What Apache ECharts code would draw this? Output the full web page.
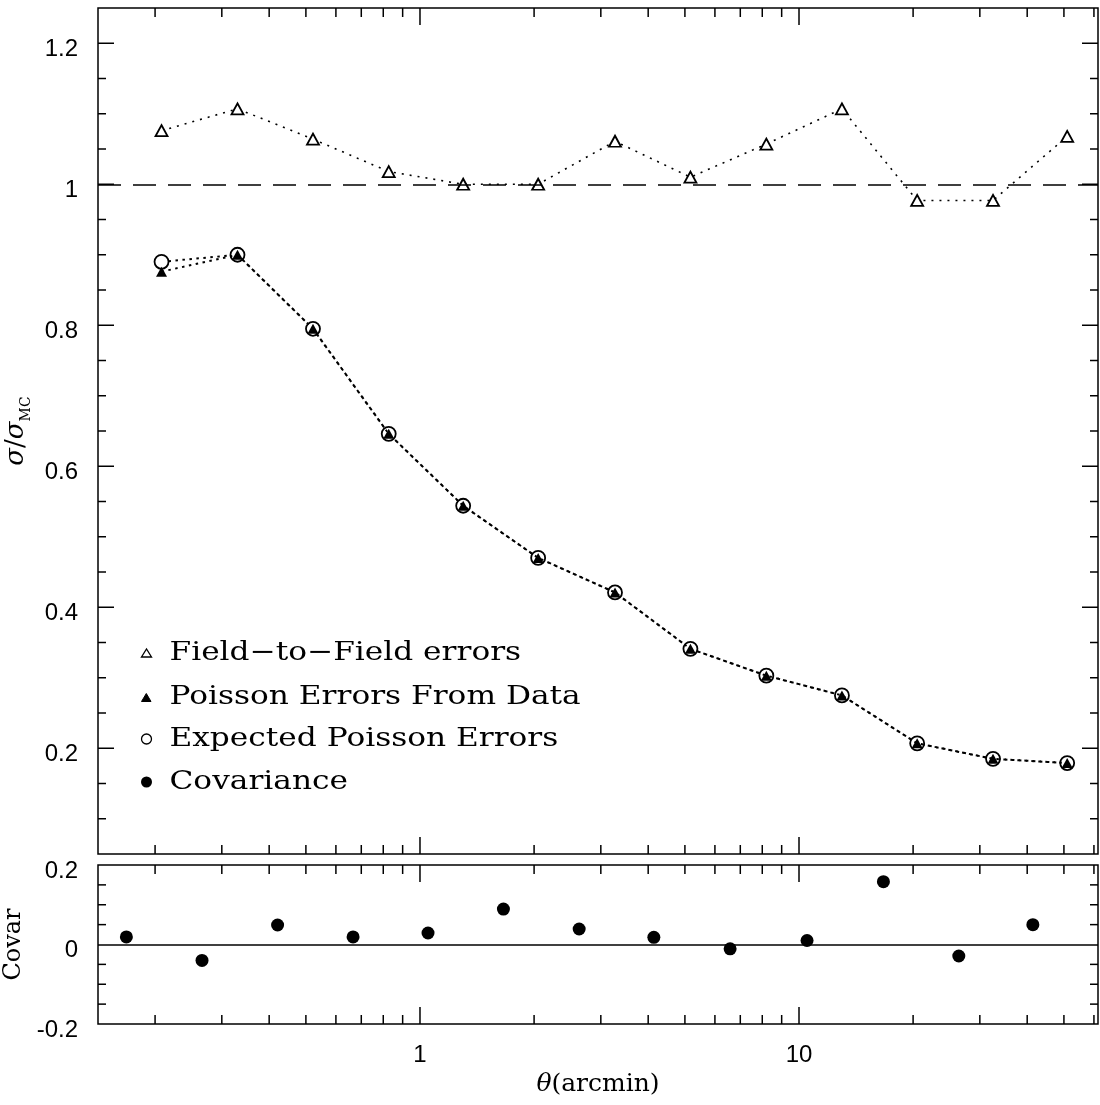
<!DOCTYPE html>
<html>
<head>
<meta charset="utf-8">
<script src="https://cdn.jsdelivr.net/npm/echarts@6/dist/echarts.min.js"></script>
<style>
  html, body { margin: 0; padding: 0; background: #fff; }
  #chart { width: 1100px; height: 1105px; }
</style>
</head>
<body>
<div id="chart"></div>
<script>
// Angular bins (arcmin) of the error-ratio measurements
const theta = [0.208, 0.330, 0.522, 0.827, 1.30, 2.05, 3.27, 5.17, 8.2, 12.98, 20.5, 32.5, 51.0];
// Bins of the neighbouring-bin covariance terms
const thetaCov = [0.168, 0.266, 0.421, 0.666, 1.05, 1.66, 2.63, 4.14, 6.58, 10.5, 16.7, 26.4, 41.4];

// sigma / sigma_MC for each error estimate
const fieldToField    = [1.076, 1.107, 1.064, 1.018, 1.000, 1.000, 1.061, 1.010, 1.057, 1.107, 0.977, 0.977, 1.068];
const poissonData     = [0.876, 0.900, 0.795, 0.646, 0.544, 0.470, 0.421, 0.341, 0.303, 0.275, 0.207, 0.185, 0.179];
const poissonExpected = [0.890, 0.900, 0.795, 0.646, 0.544, 0.470, 0.421, 0.341, 0.303, 0.275, 0.207, 0.185, 0.179];
// normalised covariance between adjacent bins
const covariance      = [0.019, -0.040, 0.049, 0.019, 0.029, 0.089, 0.039, 0.018, -0.011, 0.010, 0.158, -0.029, 0.050];

// Tick positions
const xMajorTicks = [1, 10];
const xMinorTicks = [0.2, 0.3, 0.4, 0.5, 0.6, 0.7, 0.8, 0.9, 2, 3, 4, 5, 6, 7, 8, 9, 20, 30, 40, 50, 60];
const sigmaMajorTicks = [0.2, 0.4, 0.6, 0.8, 1.0, 1.2];
const sigmaMinorTicks = [0.1, 0.15, 0.25, 0.3, 0.35, 0.45, 0.5, 0.55, 0.65, 0.7, 0.75, 0.85, 0.9, 0.95, 1.05, 1.1, 1.15];
const covarMinorTicks = [-0.15, -0.1, -0.05, 0.05, 0.1, 0.15];

// Axis ranges
const X_MIN = 0.1414, X_MAX = 61.5;
const SIG_MIN = 0.05, SIG_MAX = 1.25;
const COV_MIN = -0.2, COV_MAX = 0.2;

const SERIF = '"DejaVu Serif", "Liberation Serif", serif';
const SANS = '"Liberation Sans", Arial, sans-serif';

function pairs(xs, ys) { return xs.map((x, i) => [x, ys[i]]); }

// Inward tick marks on all four sides of a panel
function tickSeries(idx, yMin, yMax, yMajor, yMinor) {
  const items = [];
  xMajorTicks.forEach(v => items.push([v, yMin, 17, 0]));
  xMinorTicks.forEach(v => items.push([v, yMin, 9, 0]));
  yMajor.forEach(v => items.push([X_MIN, v, 16, 1]));
  yMinor.forEach(v => items.push([X_MIN, v, 8, 1]));
  return {
    type: 'custom',
    xAxisIndex: idx, yAxisIndex: idx,
    silent: true, z: 6,
    encode: { x: 0, y: 1 },
    data: items,
    renderItem(params, api) {
      const v = api.value(0), w = api.value(1), len = api.value(2), kind = api.value(3);
      const style = { stroke: '#000', lineWidth: 1.5 };
      if (kind === 0) {
        const b = api.coord([v, yMin]), t = api.coord([v, yMax]);
        return { type: 'group', children: [
          { type: 'line', shape: { x1: b[0], y1: b[1], x2: b[0], y2: b[1] - len }, style },
          { type: 'line', shape: { x1: t[0], y1: t[1], x2: t[0], y2: t[1] + len }, style }
        ]};
      }
      const l = api.coord([X_MIN, w]), r = api.coord([X_MAX, w]);
      return { type: 'group', children: [
        { type: 'line', shape: { x1: l[0], y1: l[1], x2: l[0] + len, y2: l[1] }, style },
        { type: 'line', shape: { x1: r[0], y1: r[1], x2: r[0] - len, y2: r[1] }, style }
      ]};
    }
  };
}

// y tick labels sit slightly below their tick
const axisLabelY = { fontFamily: SANS, fontSize: 24, color: '#000', margin: 20, verticalAlign: 'top', lineHeight: 12 };

const chart = echarts.init(document.getElementById('chart'), null, { renderer: 'canvas' });

chart.setOption({
  animation: false,
  backgroundColor: '#fff',
  grid: [
    { left: 98, top: 8, width: 1000, height: 846, show: true, borderColor: '#000', borderWidth: 1.5, backgroundColor: 'transparent', containLabel: false, outerBoundsMode: 'none' },
    { left: 98, top: 865, width: 1000, height: 159, show: true, borderColor: '#000', borderWidth: 1.5, backgroundColor: 'transparent', containLabel: false, outerBoundsMode: 'none' }
  ],
  xAxis: [
    { type: 'log', gridIndex: 0, min: X_MIN, max: X_MAX, logBase: 10,
      axisLine: { show: false }, axisTick: { show: false }, splitLine: { show: false },
      axisLabel: { show: false } },
    { type: 'log', gridIndex: 1, min: X_MIN, max: X_MAX, logBase: 10,
      axisLine: { show: false }, axisTick: { show: false }, splitLine: { show: false },
      axisLabel: { fontFamily: SANS, fontSize: 24, color: '#000', margin: 19,
                   showMinLabel: false, showMaxLabel: false },
      name: '{i|θ}(arcmin)', nameLocation: 'middle', nameGap: 48,
      nameTextStyle: { fontFamily: SERIF, fontSize: 25, color: '#000',
                       rich: { i: { fontFamily: SERIF, fontStyle: 'italic', fontSize: 25, color: '#000' } } } }
  ],
  yAxis: [
    { type: 'value', gridIndex: 0, min: SIG_MIN, max: SIG_MAX,
      axisLine: { show: false }, axisTick: { show: false }, splitLine: { show: false },
      axisLabel: Object.assign({ showMinLabel: false, showMaxLabel: false }, axisLabelY),
      name: '{i|σ}/{i|σ}{sub|MC}', nameLocation: 'middle', nameGap: 58,
      nameTextStyle: { fontFamily: SERIF, fontSize: 26, color: '#000', lineHeight: 34,
                       rich: {
                         i: { fontFamily: SERIF, fontStyle: 'italic', fontSize: 26, color: '#000', lineHeight: 34 },
                         sub: { fontFamily: SERIF, fontSize: 14, color: '#000', lineHeight: 14, verticalAlign: 'bottom' }
                       } } },
    { type: 'value', gridIndex: 1, min: COV_MIN, max: COV_MAX, interval: 0.2,
      axisLine: { show: false }, axisTick: { show: false }, splitLine: { show: false },
      axisLabel: axisLabelY,
      name: 'Covar', nameLocation: 'middle', nameGap: 64,
      nameTextStyle: { fontFamily: SERIF, fontSize: 24, color: '#000' } }
  ],
  series: [
    {
      name: 'Field−to−Field errors', type: 'line', xAxisIndex: 0, yAxisIndex: 0,
      data: pairs(theta, fieldToField),
      symbol: 'triangle', symbolSize: [12, 11],
      itemStyle: { color: '#fff', borderColor: '#000', borderWidth: 1.8 },
      lineStyle: { color: '#000', width: 1.6, type: [2, 6] },
      z: 3,
      markLine: {
        silent: true, symbol: 'none', label: { show: false },
        lineStyle: { color: '#000', width: 1.5, type: [23, 12] },
        data: [{ yAxis: 1 }]
      }
    },
    {
      name: 'Expected Poisson Errors', type: 'line', xAxisIndex: 0, yAxisIndex: 0,
      data: pairs(theta, poissonExpected),
      symbol: 'circle', symbolSize: 14,
      itemStyle: { color: '#fff', borderColor: '#000', borderWidth: 1.8 },
      lineStyle: { color: '#000', width: 2, type: [2.5, 4.5] },
      z: 3
    },
    {
      name: 'Poisson Errors From Data', type: 'line', xAxisIndex: 0, yAxisIndex: 0,
      data: pairs(theta, poissonData),
      symbol: 'triangle', symbolSize: [11, 10],
      itemStyle: { color: '#000', borderColor: '#000', borderWidth: 0 },
      lineStyle: { color: '#000', width: 2, type: [2.5, 4.5] },
      z: 4
    },
    {
      name: 'Covariance', type: 'scatter', xAxisIndex: 1, yAxisIndex: 1,
      data: pairs(thetaCov, covariance),
      symbol: 'circle', symbolSize: 13,
      itemStyle: { color: '#000', opacity: 1 },
      z: 4,
      markLine: {
        silent: true, symbol: 'none', label: { show: false },
        lineStyle: { color: '#000', width: 1.5, type: 'solid' },
        data: [{ yAxis: 0 }]
      }
    },
    tickSeries(0, SIG_MIN, SIG_MAX, sigmaMajorTicks, sigmaMinorTicks),
    tickSeries(1, COV_MIN, COV_MAX, [], covarMinorTicks)
  ],
  // Key for the four marker types
  graphic: [
    { type: 'polygon', shape: { points: [[141.5, 657], [151.5, 657], [146.5, 649]] },
      style: { fill: '#fff', stroke: '#000', lineWidth: 1.3 } },
    { type: 'text', x: 169.5, y: 653, scaleX: 1.2,
      style: { text: 'Field−to−Field errors', font: '26px ' + SERIF, fill: '#000', verticalAlign: 'middle', align: 'left' } },
    { type: 'polygon', shape: { points: [[141.5, 701.5], [151, 701.5], [146.3, 693.5]] },
      style: { fill: '#000', stroke: '#000', lineWidth: 1 } },
    { type: 'text', x: 169.5, y: 697, scaleX: 1.2,
      style: { text: 'Poisson Errors From Data', font: '26px ' + SERIF, fill: '#000', verticalAlign: 'middle', align: 'left' } },
    { type: 'circle', shape: { cx: 146.5, cy: 739, r: 5 },
      style: { fill: '#fff', stroke: '#000', lineWidth: 1.3 } },
    { type: 'text', x: 169.5, y: 739, scaleX: 1.2,
      style: { text: 'Expected Poisson Errors', font: '26px ' + SERIF, fill: '#000', verticalAlign: 'middle', align: 'left' } },
    { type: 'circle', shape: { cx: 146.5, cy: 782, r: 5.5 },
      style: { fill: '#000' } },
    { type: 'text', x: 169.5, y: 782, scaleX: 1.2,
      style: { text: 'Covariance', font: '26px ' + SERIF, fill: '#000', verticalAlign: 'middle', align: 'left' } }
  ]
});
</script>
</body>
</html>
